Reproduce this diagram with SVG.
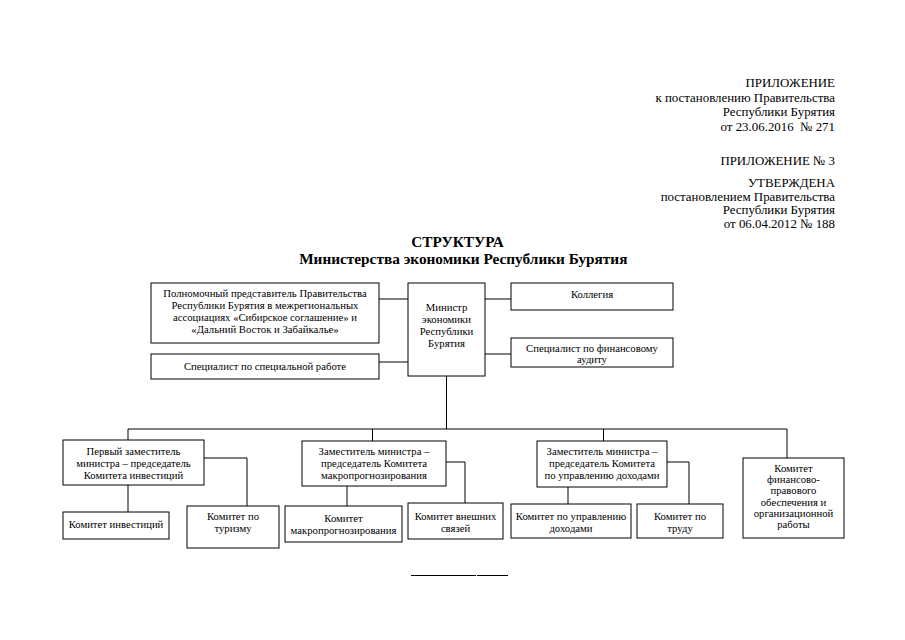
<svg xmlns="http://www.w3.org/2000/svg" width="905" height="640" viewBox="0 0 905 640">
<style>
text{font-family:"Liberation Serif","Times New Roman",serif;fill:#000}
.h{font-size:12.9px;text-anchor:end}
.t{font-size:15.3px;font-weight:bold;text-anchor:middle}
.b{font-size:10.7px;text-anchor:middle}
rect{fill:#fff;stroke:#000;stroke-width:1}
.c line,.c polyline{stroke:#000;stroke-width:1;fill:none}
</style>
<rect x="0" y="0" width="905" height="640" style="stroke:none"/>
<g id="header">
<text class="h" x="835" y="87">ПРИЛОЖЕНИЕ</text>
<text class="h" x="835" y="101.5">к постановлению Правительства</text>
<text class="h" x="835" y="116">Республики Бурятия</text>
<text class="h" x="835" y="130.5" xml:space="preserve">от 23.06.2016  № 271</text>
<text class="h" x="835" y="165">ПРИЛОЖЕНИЕ № 3</text>
<text class="h" x="835" y="187">УТВЕРЖДЕНА</text>
<text class="h" x="835" y="200.5">постановлением Правительства</text>
<text class="h" x="835" y="214">Республики Бурятия</text>
<text class="h" x="835" y="227.5">от 06.04.2012 № 188</text>
</g>
<g id="title">
<text class="t" x="457.5" y="247">СТРУКТУРА</text>
<text class="t" x="463.3" y="264">Министерства экономики Республики Бурятия</text>
</g>
<g class="c" id="connectors">
<line x1="379" y1="299" x2="408" y2="299"/>
<line x1="379" y1="362" x2="408" y2="362"/>
<line x1="485" y1="299" x2="511" y2="299"/>
<line x1="485" y1="354" x2="511" y2="354"/>
<line x1="446.5" y1="376" x2="446.5" y2="429"/>
<line x1="128" y1="429" x2="787" y2="429"/>
<line x1="128" y1="429" x2="128" y2="440"/>
<line x1="372.5" y1="429" x2="372.5" y2="441"/>
<line x1="603.5" y1="429" x2="603.5" y2="441"/>
<line x1="787" y1="429" x2="787" y2="458"/>
<polyline points="204,458 247,458 247,506"/>
<line x1="128" y1="485" x2="128" y2="512"/>
<polyline points="446,462 465,462 465,503"/>
<line x1="347" y1="486" x2="347" y2="506"/>
<polyline points="667,462 689,462 689,504"/>
<line x1="568" y1="487" x2="568" y2="504"/>
</g>
<g id="polpred">
<rect x="151" y="283" width="228" height="60"/>
<text class="b" x="265" y="297">Полномочный представитель Правительства</text>
<text class="b" x="265" y="309">Республики Бурятия в межрегиональных</text>
<text class="b" x="265" y="321">ассоциациях «Сибирское соглашение» и</text>
<text class="b" x="265" y="333">«Дальний Восток и Забайкалье»</text>
</g>
<g id="spec-special">
<rect x="151" y="354" width="228" height="25"/>
<text class="b" x="265" y="370">Специалист по специальной работе</text>
</g>
<g id="minister">
<rect x="408" y="283" width="77" height="93"/>
<text class="b" x="446.5" y="311">Министр</text>
<text class="b" x="446.5" y="323">экономики</text>
<text class="b" x="446.5" y="335">Республики</text>
<text class="b" x="446.5" y="347">Бурятия</text>
</g>
<g id="kollegiya">
<rect x="511" y="283" width="162" height="27"/>
<text class="b" x="592" y="298">Коллегия</text>
</g>
<g id="spec-audit">
<rect x="511" y="338" width="162" height="29"/>
<text class="b" x="592" y="351.5">Специалист по финансовому</text>
<text class="b" x="592" y="362.5">аудиту</text>
</g>
<g id="dep1">
<rect x="63" y="440" width="141" height="45"/>
<text class="b" x="133.5" y="455">Первый заместитель</text>
<text class="b" x="133.5" y="467">министра – председатель</text>
<text class="b" x="133.5" y="479">Комитета инвестиций</text>
</g>
<g id="kom-invest">
<rect x="63" y="512" width="106" height="27"/>
<text class="b" x="116" y="528">Комитет инвестиций</text>
</g>
<g id="kom-turizm">
<rect x="187" y="506" width="92" height="42"/>
<text class="b" x="233" y="520">Комитет по</text>
<text class="b" x="233" y="532">туризму</text>
</g>
<g id="dep2">
<rect x="302" y="441" width="144" height="45"/>
<text class="b" x="374" y="455">Заместитель министра –</text>
<text class="b" x="374" y="467">председатель Комитета</text>
<text class="b" x="374" y="479">макропрогнозирования</text>
</g>
<g id="kom-makro">
<rect x="285" y="506" width="117" height="36"/>
<text class="b" x="343.5" y="522">Комитет</text>
<text class="b" x="343.5" y="534">макропрогнозирования</text>
</g>
<g id="kom-vnesh">
<rect x="408" y="503" width="95" height="36"/>
<text class="b" x="455.5" y="520">Комитет внешних</text>
<text class="b" x="455.5" y="532">связей</text>
</g>
<g id="dep3">
<rect x="537" y="441" width="130" height="46"/>
<text class="b" x="602" y="455">Заместитель министра –</text>
<text class="b" x="602" y="467">председатель Комитета</text>
<text class="b" x="602" y="479">по управлению доходами</text>
</g>
<g id="kom-dohod">
<rect x="511" y="504" width="120" height="34"/>
<text class="b" x="571" y="520">Комитет по управлению</text>
<text class="b" x="571" y="531.5">доходами</text>
</g>
<g id="kom-trud">
<rect x="637" y="504" width="86" height="34"/>
<text class="b" x="680" y="520">Комитет по</text>
<text class="b" x="680" y="531.5">труду</text>
</g>
<g id="kom-finprav">
<rect x="743" y="458" width="101" height="80"/>
<text class="b" x="793.5" y="472">Комитет</text>
<text class="b" x="793.5" y="483.2">финансово-</text>
<text class="b" x="793.5" y="494.4">правового</text>
<text class="b" x="793.5" y="505.6">обеспечения и</text>
<text class="b" x="793.5" y="516.8">организационной</text>
<text class="b" x="793.5" y="528">работы</text>
</g>
<g id="footer-line">
<line x1="411" y1="575.5" x2="476" y2="575.5" style="stroke:#000;stroke-width:1"/>
<line x1="477" y1="575.5" x2="508" y2="575.5" style="stroke:#000;stroke-width:1"/>
</g>
</svg>
